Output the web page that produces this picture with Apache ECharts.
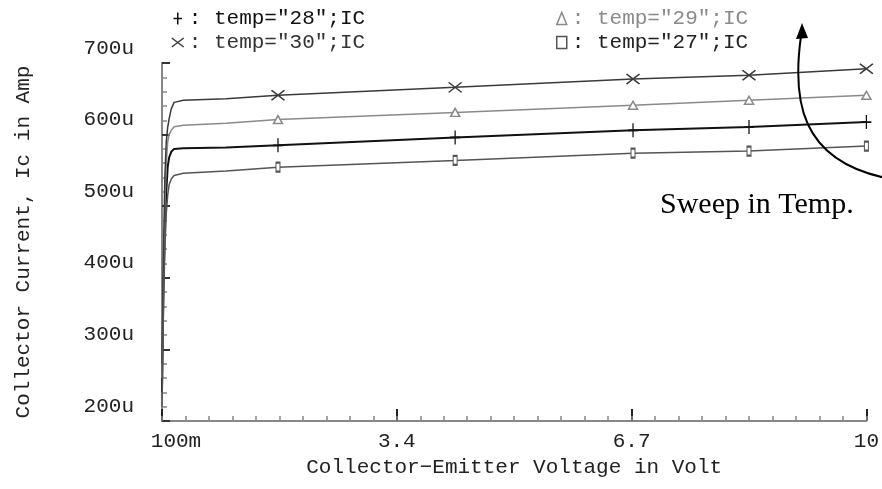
<!DOCTYPE html>
<html><head><meta charset="utf-8">
<script src="https://cdn.jsdelivr.net/npm/echarts@6/dist/echarts.min.js"></script>
<style>html,body{margin:0;padding:0;background:#fff}#c{width:882px;height:489px}</style>
</head><body><div id="c"></div>
<script>
// ---- data (collector current in uA vs collector-emitter voltage in V) ----
const voltage = [0.1, 0.12, 0.14, 0.16, 0.18, 0.2, 0.23, 0.27, 0.4, 1.0, 1.73, 4.22, 6.72, 8.35, 10];
const ic30 = [280, 430, 540, 590, 610, 622, 636, 645, 648, 650, 655, 666, 677.6, 683, 692];
const ic29 = [260, 400, 500, 560, 590, 600, 606, 611, 613, 616, 621, 631, 641, 648, 655];
const ic28 = [240, 380, 470, 520, 555, 568, 576, 580, 581, 582, 585, 596, 606, 610.5, 617.5];
const ic27 = [220, 360, 440, 490, 515, 530, 538, 543, 546, 549, 554.5, 564, 574, 577, 584];
const markerVoltage = [1.73, 4.22, 6.72, 8.35, 10];
const xTickValues = [0.1, 3.4, 6.7, 10];
const xTickLabels = ['100m', '3.4', '6.7', '10'];
const seriesNames = ['28', '29', '30', '27'];

const MONO = '"Liberation Mono", "DejaVu Sans Mono", monospace';
const plusPath = 'path://M5,0L5,14M0,7L10,7';
const crossPath = 'path://M0,0L12,9M0,9L12,0';

const styles = {
  '28': {color: '#111', width: 2, symbol: plusPath, size: [10, 14], text: '#111', icon: plusPath},
  '29': {color: '#8a8a8a', width: 1.5, symbol: 'triangle', size: [9, 8], text: '#8a8a8a', icon: 'triangle'},
  '30': {color: '#3a3a3a', width: 1.5, symbol: crossPath, size: [13, 10], text: '#333', icon: crossPath},
  '27': {color: '#555', width: 1.5, symbol: 'rect', size: [4, 9], text: '#222', icon: 'rect'}
};
const valuesByName = {'28': ic28, '29': ic29, '30': ic30, '27': ic27};

// minor x ticks derived from the major tick labels (10 subdivisions)
const xMinorTicks = [];
for (let i = 0; i < xTickValues.length - 1; i++) {
  const a = xTickValues[i], b = xTickValues[i + 1];
  for (let k = 0; k < 10; k++) xMinorTicks.push(+(a + (b - a) * k / 10).toFixed(4));
}
xMinorTicks.push(xTickValues[xTickValues.length - 1]);

function buildData(vals) {
  return voltage.map((v, i) => {
    const item = {value: [v, vals[i]]};
    if (markerVoltage.indexOf(v) < 0) item.symbol = 'none';
    return item;
  });
}

const series = seriesNames.map(n => {
  const s = styles[n];
  return {
    name: n, type: 'line', xAxisIndex: 0, yAxisIndex: 0,
    data: buildData(valuesByName[n]),
    symbol: s.symbol, symbolSize: s.size, showSymbol: true, showAllSymbol: true,
    lineStyle: {color: s.color, width: s.width},
    itemStyle: {color: '#fff', borderColor: s.color, borderWidth: 1.5},
    emphasis: {disabled: true}, z: 3
  };
});

function legendItem(n) {
  const s = styles[n];
  return {name: n, icon: s.icon,
    itemStyle: {color: '#fff', borderColor: s.color, borderWidth: 1.5},
    textStyle: {color: s.text}};
}

const chart = echarts.init(document.getElementById('c'), null, {renderer: 'canvas'});
chart.setOption({
  animation: false,
  backgroundColor: '#fff',
  grid: {left: 162, right: 9, top: 63, bottom: 68, containLabel: false},
  legend: [
    {orient: 'vertical', left: 166, top: 3, itemWidth: 12, itemHeight: 12, itemGap: 3,
     data: [legendItem('28'), legendItem('30')], selectedMode: false,
     formatter: n => ': temp="' + n + '";IC',
     textStyle: {fontFamily: MONO, fontSize: 21}},
    {orient: 'vertical', left: 551, top: 3, itemWidth: 10, itemHeight: 12, itemGap: 3,
     data: [legendItem('29'), legendItem('27')], selectedMode: false,
     formatter: n => ': temp="' + n + '";IC',
     textStyle: {fontFamily: MONO, fontSize: 21}}
  ],
  xAxis: [
    {type: 'value', min: 0.1, max: 10, position: 'bottom',
     name: 'Collector\u2212Emitter Voltage in Volt', nameLocation: 'middle', nameGap: 35,
     nameTextStyle: {fontFamily: MONO, fontSize: 21, color: '#222'},
     axisLine: {show: true, lineStyle: {color: '#888', width: 2}},
     axisTick: {show: true, inside: true, length: 12, customValues: xTickValues, lineStyle: {color: '#222', width: 2}},
     axisLabel: {show: true, customValues: xTickValues, margin: 10, fontFamily: MONO, fontSize: 21, color: '#222',
       formatter: v => {
         const idx = xTickValues.findIndex(t => Math.abs(t - v) < 1e-6);
         const txt = idx >= 0 ? xTickLabels[idx] : '';
         return idx === 0 ? '{first|' + txt + '}' : txt;
       },
       rich: {first: {fontFamily: MONO, fontSize: 21, color: '#222', padding: [0, 0, 0, 28]}}},
     splitLine: {show: false}},
    {type: 'value', min: 0.1, max: 10, position: 'bottom', offset: 0,
     axisLine: {show: false},
     axisTick: {show: true, inside: true, length: 5, customValues: xMinorTicks, lineStyle: {color: '#888', width: 1.5}},
     axisLabel: {show: false}, splitLine: {show: false}}
  ],
  yAxis: {
    type: 'value', min: 200, max: 700, interval: 100,
    name: 'Collector Current, Ic in Amp', nameLocation: 'middle', nameGap: 128,
    nameTextStyle: {fontFamily: MONO, fontSize: 21, color: '#222'},
    axisLine: {show: true, lineStyle: {color: '#888', width: 2}},
    axisTick: {show: true, inside: true, length: 8, lineStyle: {color: '#333', width: 2}},
    minorTick: {show: true, splitNumber: 5, length: 5, lineStyle: {color: '#888', width: 1.5}},
    axisLabel: {formatter: v => '{v|' + v + 'u}', fontFamily: MONO, fontSize: 21, color: '#222', margin: 28,
      rich: {v: {fontFamily: MONO, fontSize: 21, color: '#222', padding: [0, 0, 30, 0]}}},
    splitLine: {show: false}, minorSplitLine: {show: false}
  },
  series: series,
  graphic: [
    {type: 'text', left: 660, top: 190, z: 10,
     style: {text: 'Sweep in Temp.', font: '30px "Liberation Serif", "Times New Roman", serif', fill: '#000'}},
    {type: 'bezierCurve', z: 10,
     shape: {x1: 886, y1: 178, cpx1: 800, cpy1: 160, cpx2: 792, cpy2: 100, x2: 801, y2: 36},
     style: {stroke: '#000', lineWidth: 2, fill: null}},
    {type: 'polygon', z: 10,
     shape: {points: [[802, 23], [796, 39], [808, 38]]},
     style: {fill: '#000'}}
  ]
});
</script>
</body></html>
